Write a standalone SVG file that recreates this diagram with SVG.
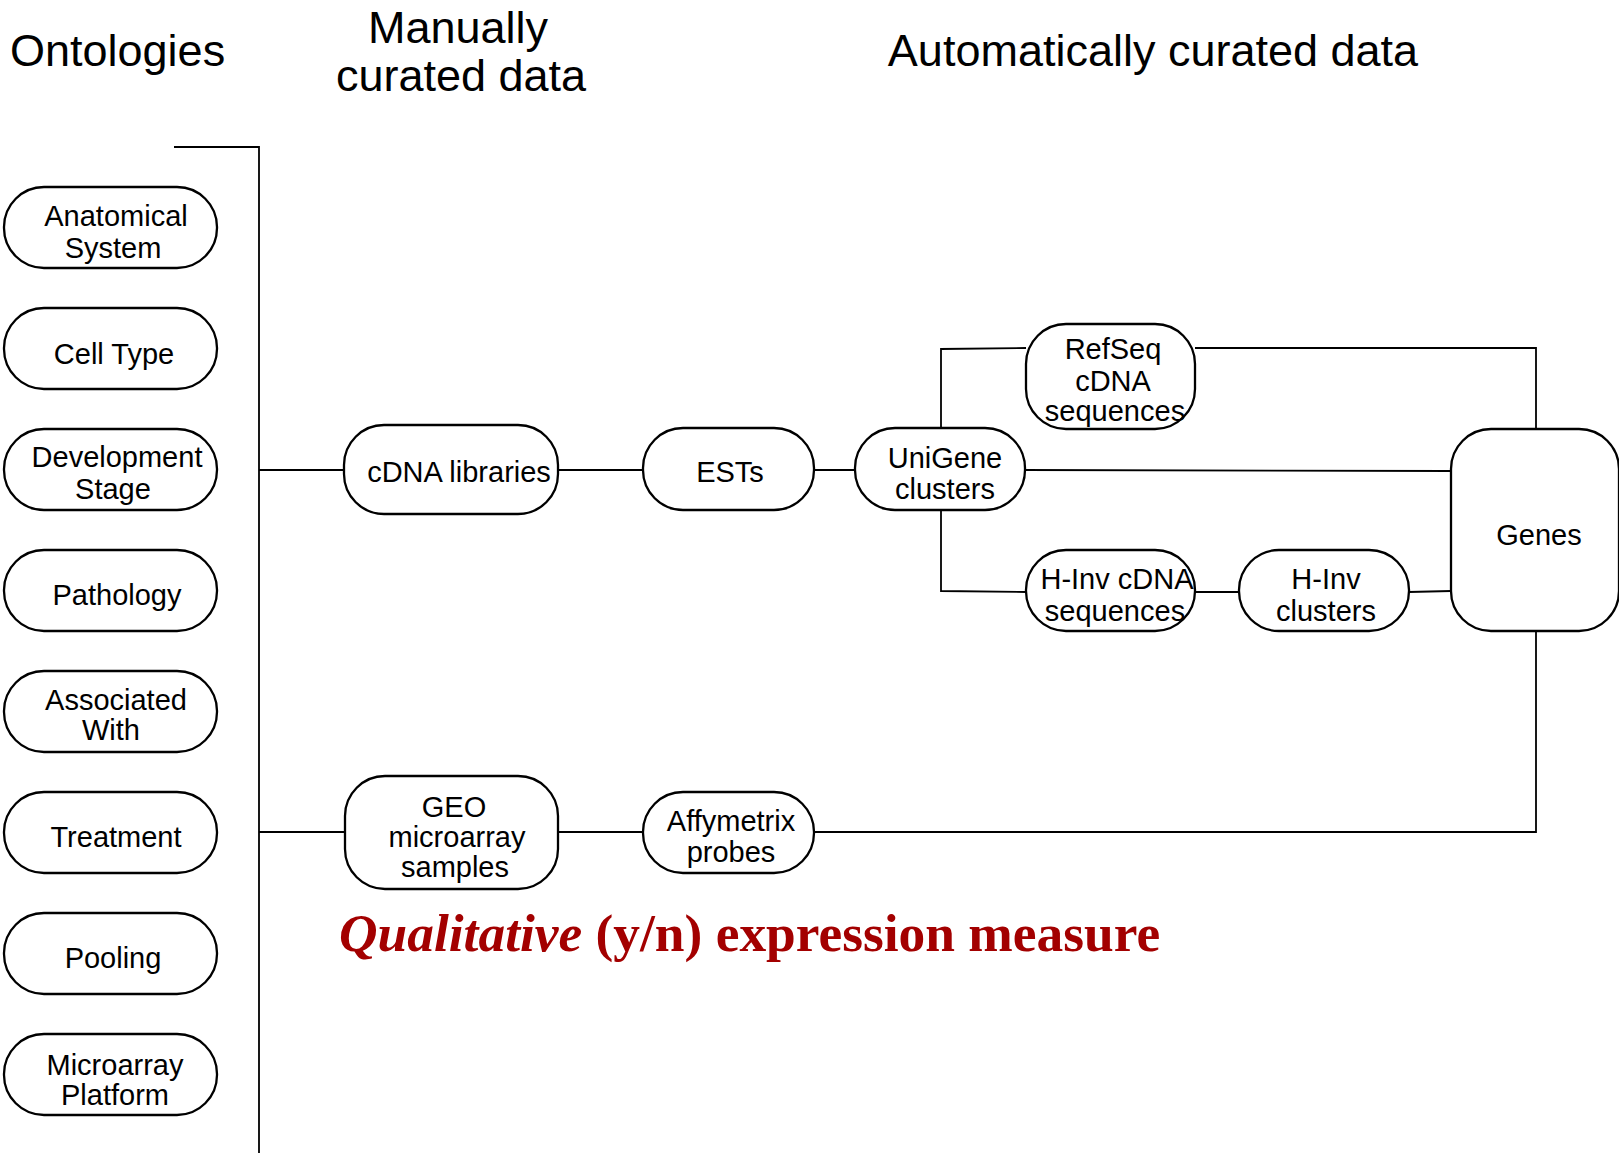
<svg xmlns="http://www.w3.org/2000/svg" width="1619" height="1153" viewBox="0 0 1619 1153">
  <style>
    .node { fill: #ffffff; stroke: #000000; stroke-width: 2.3; }
    .lbl { font-family: "Liberation Sans", Arial, sans-serif; font-size: 29px; fill: #000000; text-anchor: middle; }
    .head { font-family: "Liberation Sans", Arial, sans-serif; font-size: 45px; fill: #000000; }
    .wire { fill: none; stroke: #000000; stroke-width: 1.8; }
    .note { font-family: "Liberation Serif", "Times New Roman", serif; font-size: 53.4px; font-weight: bold; fill: #a30000; }
  </style>

  <rect width="1619" height="1153" fill="#ffffff"/>

  <!-- column headings -->
  <g id="headings">
    <text class="head" x="10" y="66">Ontologies</text>
    <text class="head" x="458" y="43" text-anchor="middle">Manually</text>
    <text class="head" x="461" y="91" text-anchor="middle">curated data</text>
    <text class="head" x="1153" y="66" text-anchor="middle">Automatically curated data</text>
  </g>

  <!-- connectors -->
  <g id="connectors">
    <polyline class="wire" points="174,147 259,147 259,1153" stroke-width="2"/>
    <line class="wire" x1="259" y1="470" x2="344" y2="470"/>
    <line class="wire" x1="558" y1="470" x2="643" y2="470"/>
    <line class="wire" x1="814" y1="470" x2="855" y2="470"/>
    <line class="wire" x1="1025" y1="470" x2="1451" y2="471"/>
    <polyline class="wire" points="941,428 941,349 1026,348"/>
    <polyline class="wire" points="1195,348 1536,348 1536,429"/>
    <polyline class="wire" points="941,510 941,591 1026,592"/>
    <line class="wire" x1="1195" y1="592" x2="1239" y2="592"/>
    <line class="wire" x1="1409" y1="592" x2="1451" y2="591"/>
    <polyline class="wire" points="1536,631 1536,832 814,832"/>
    <line class="wire" x1="259" y1="832" x2="345" y2="832"/>
    <line class="wire" x1="558" y1="832" x2="643" y2="832"/>
  </g>

  <!-- ontology terms -->
  <g id="anatomical-system">
    <rect class="node" x="4" y="187" width="213" height="81" rx="40" ry="40"/>
    <text class="lbl" x="116" y="226">Anatomical</text>
    <text class="lbl" x="113" y="258">System</text>
  </g>
  <g id="cell-type">
    <rect class="node" x="4" y="308" width="213" height="81" rx="40" ry="40"/>
    <text class="lbl" x="114" y="364">Cell Type</text>
  </g>
  <g id="development-stage">
    <rect class="node" x="4" y="429" width="213" height="81" rx="40" ry="40"/>
    <text class="lbl" x="117" y="467">Development</text>
    <text class="lbl" x="113" y="499">Stage</text>
  </g>
  <g id="pathology">
    <rect class="node" x="4" y="550" width="213" height="81" rx="40" ry="40"/>
    <text class="lbl" x="117" y="605">Pathology</text>
  </g>
  <g id="associated-with">
    <rect class="node" x="4" y="671" width="213" height="81" rx="40" ry="40"/>
    <text class="lbl" x="116" y="710">Associated</text>
    <text class="lbl" x="111" y="740">With</text>
  </g>
  <g id="treatment">
    <rect class="node" x="4" y="792" width="213" height="81" rx="40" ry="40"/>
    <text class="lbl" x="116" y="847">Treatment</text>
  </g>
  <g id="pooling">
    <rect class="node" x="4" y="913" width="213" height="81" rx="40" ry="40"/>
    <text class="lbl" x="113" y="968">Pooling</text>
  </g>
  <g id="microarray-platform">
    <rect class="node" x="4" y="1034" width="213" height="81" rx="40" ry="40"/>
    <text class="lbl" x="115" y="1075">Microarray</text>
    <text class="lbl" x="115" y="1105">Platform</text>
  </g>

  <!-- manually curated data -->
  <g id="cdna-libraries">
    <rect class="node" x="344" y="425" width="214" height="89" rx="40" ry="40"/>
    <text class="lbl" x="459" y="482">cDNA libraries</text>
  </g>
  <g id="geo-samples">
    <rect class="node" x="345" y="776" width="213" height="113" rx="40" ry="40"/>
    <text class="lbl" x="454" y="817">GEO</text>
    <text class="lbl" x="457" y="847">microarray</text>
    <text class="lbl" x="455" y="877">samples</text>
  </g>

  <!-- automatically curated data -->
  <g id="ests">
    <rect class="node" x="643" y="428" width="171" height="82" rx="40" ry="40"/>
    <text class="lbl" x="730" y="482">ESTs</text>
  </g>
  <g id="unigene-clusters">
    <rect class="node" x="855" y="428" width="170" height="82" rx="40" ry="40"/>
    <text class="lbl" x="945" y="468">UniGene</text>
    <text class="lbl" x="945" y="499">clusters</text>
  </g>
  <g id="refseq-cdna">
    <rect class="node" x="1026" y="324" width="169" height="105" rx="40" ry="40"/>
    <text class="lbl" x="1113" y="359">RefSeq</text>
    <text class="lbl" x="1113" y="391">cDNA</text>
    <text class="lbl" x="1115" y="421">sequences</text>
  </g>
  <g id="hinv-cdna">
    <rect class="node" x="1026" y="550" width="169" height="81" rx="40" ry="40"/>
    <text class="lbl" x="1117" y="589">H-Inv cDNA</text>
    <text class="lbl" x="1115" y="621">sequences</text>
  </g>
  <g id="hinv-clusters">
    <rect class="node" x="1239" y="550" width="170" height="81" rx="40" ry="40"/>
    <text class="lbl" x="1326" y="589">H-Inv</text>
    <text class="lbl" x="1326" y="621">clusters</text>
  </g>
  <g id="genes">
    <rect class="node" x="1451" y="429" width="168" height="202" rx="40" ry="40"/>
    <text class="lbl" x="1539" y="545">Genes</text>
  </g>
  <g id="affymetrix-probes">
    <rect class="node" x="643" y="792" width="171" height="81" rx="40" ry="40"/>
    <text class="lbl" x="731" y="831">Affymetrix</text>
    <text class="lbl" x="731" y="862">probes</text>
  </g>

  <!-- caption -->
  <text class="note" x="339" y="951"><tspan font-style="italic">Qualitative</tspan> (y/n) expression measure</text>
</svg>
